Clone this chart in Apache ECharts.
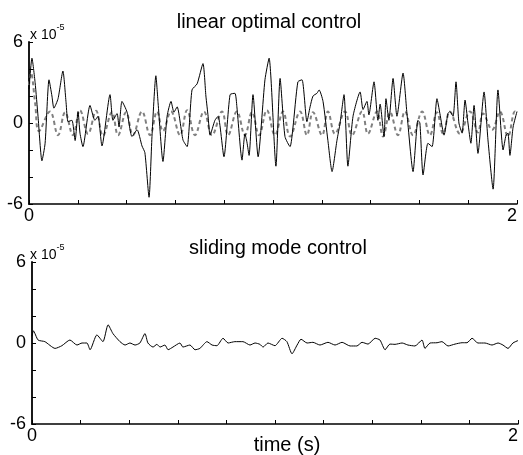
<!DOCTYPE html>
<html>
<head>
<meta charset="utf-8">
<script src="https://cdn.jsdelivr.net/npm/echarts@6/dist/echarts.min.js"></script>
<style>
  html, body { margin: 0; padding: 0; background: #fff; }
  #chart { width: 523px; height: 455px; }
</style>
</head>
<body>
<div id="chart"></div>
<script>
// values in units of 1e-5, time in seconds
const topTime = [0, 0.012, 0.025, 0.037, 0.053, 0.066, 0.082, 0.094, 0.102, 0.119, 0.139, 0.152, 0.160, 0.176, 0.189, 0.201, 0.209, 0.221, 0.250, 0.270, 0.283, 0.299, 0.332, 0.344, 0.361, 0.369, 0.381, 0.402, 0.422, 0.443, 0.463, 0.475, 0.492, 0.504, 0.520, 0.529, 0.549, 0.566, 0.582, 0.594, 0.607, 0.631, 0.648, 0.668, 0.689, 0.713, 0.725, 0.734, 0.742, 0.762, 0.775, 0.799, 0.824, 0.844, 0.852, 0.873, 0.885, 0.893, 0.902, 0.918, 0.939, 0.967, 0.984, 1.012, 1.029, 1.049, 1.070, 1.082, 1.102, 1.119, 1.139, 1.152, 1.164, 1.180, 1.189, 1.205, 1.225, 1.242, 1.262, 1.275, 1.291, 1.307, 1.328, 1.357, 1.369, 1.385, 1.393, 1.414, 1.430, 1.439, 1.455, 1.463, 1.475, 1.492, 1.508, 1.533, 1.549, 1.574, 1.594, 1.602, 1.615, 1.635, 1.652, 1.672, 1.684, 1.701, 1.717, 1.725, 1.738, 1.750, 1.762, 1.775, 1.787, 1.799, 1.811, 1.824, 1.840, 1.865, 1.881, 1.902, 1.922, 1.943, 1.955, 1.963, 1.971, 1.984, 2.0];
const topSolid = [2.5, 4.8, 3.0, 0.5, -2.8, -1.5, 3.2, 2.0, 1.1, 1.8, 3.85, 1.5, 0.1, 0.2, -1.3, 0.85, -0.75, -1.75, 1.3, 0.2, 0.5, -1.7, 2.1, 0.2, 0.7, -0.3, 1.6, 0.8, -1.0, -0.5, -1.7, -2.2, -5.5, -1.0, 3.5, 1.5, -2.85, 0.5, 1.6, 0.8, 1.2, -1.25, -1.75, 2.45, 2.9, 4.4, 2.0, 0.5, -0.9, 0.2, 0.5, -2.5, 2.1, 2.2, 1.2, -2.75, -0.8, -1.4, -2.4, 2.1, -2.5, 3.2, 4.8, -3.2, 3.3, -1.0, -1.75, -0.3, 3.05, 3.2, 0.1, 1.2, 2.0, 2.2, 2.45, 1.6, -1.3, -3.6, -1.3, 0.0, 2.1, -3.2, 0.5, 2.3, 1.0, 1.6, 0.6, 3.05, 0.2, 1.4, -1.0, 1.8, 0.2, 3.3, 0.5, 3.7, 0.7, -3.6, 0.2, 0.0, -3.85, -1.5, -1.75, 1.8, 0.7, -0.9, 0.7, 0.85, 0.5, 3.05, 0.0, -0.75, 1.7, 0.0, -1.5, 1.3, -2.25, 2.3, -1.25, -4.9, 2.45, -2.0, -0.9, -0.75, -2.4, -0.3, 0.85];

const dashTime = [0, 0.008, 0.025, 0.041, 0.086, 0.119, 0.148, 0.180, 0.209, 0.242, 0.275, 0.303, 0.340, 0.365, 0.398, 0.426, 0.463, 0.496, 0.525, 0.549, 0.582, 0.619, 0.648, 0.680, 0.717, 0.750, 0.791, 0.816, 0.852, 0.885, 0.914, 0.943, 0.975, 1.008, 1.041, 1.070, 1.111, 1.139, 1.164, 1.201, 1.225, 1.254, 1.295, 1.324, 1.365, 1.389, 1.426, 1.451, 1.480, 1.512, 1.541, 1.574, 1.611, 1.643, 1.672, 1.697, 1.725, 1.766, 1.807, 1.840, 1.861, 1.898, 1.930, 1.963, 1.992, 2.0];
const dashVals = [2.8, 3.7, 1.5, -0.6, 0.85, -0.9, 0.8, -0.9, 0.95, -0.8, 0.9, -0.95, 0.8, -0.9, 0.8, -0.9, 0.85, -0.9, 0.85, -0.6, 0.85, -0.9, 0.95, -0.9, 0.85, -0.9, 0.85, -0.9, 0.85, -0.9, 0.8, -0.9, 0.95, -0.9, 0.85, -1.0, 0.85, -0.9, 0.8, -0.9, 0.85, -0.8, 0.85, -0.9, 0.85, -0.8, 0.85, -1.0, 0.8, -0.9, 0.85, -0.9, 0.85, -0.9, 0.8, -0.8, 0.85, -0.8, 0.85, -0.7, 0.7, -0.5, 0.85, -1.0, 0.85, 0.7];

const botTime = [0, 0.006, 0.025, 0.053, 0.095, 0.123, 0.156, 0.185, 0.206, 0.226, 0.239, 0.267, 0.292, 0.313, 0.333, 0.362, 0.383, 0.403, 0.424, 0.444, 0.465, 0.477, 0.498, 0.514, 0.527, 0.547, 0.560, 0.580, 0.609, 0.621, 0.650, 0.671, 0.691, 0.720, 0.741, 0.761, 0.786, 0.807, 0.835, 0.868, 0.897, 0.918, 0.938, 0.951, 0.971, 1.0, 1.029, 1.049, 1.070, 1.091, 1.107, 1.132, 1.156, 1.185, 1.218, 1.247, 1.276, 1.309, 1.337, 1.358, 1.383, 1.412, 1.432, 1.453, 1.473, 1.494, 1.523, 1.547, 1.576, 1.605, 1.617, 1.638, 1.667, 1.687, 1.712, 1.741, 1.770, 1.790, 1.811, 1.835, 1.864, 1.893, 1.918, 1.938, 1.959, 1.979, 2.0];
const botVals = [0.5, 0.9, 0.22, 0.1, -0.4, -0.2, 0.22, -0.15, 0.0, 0.0, -0.5, 0.6, 0.1, 1.35, 0.7, 0.1, -0.15, 0.0, -0.15, 0.0, 0.7, 0.0, -0.3, -0.1, -0.3, -0.15, -0.5, -0.3, 0.0, -0.3, -0.15, -0.5, -0.4, 0.1, -0.15, -0.2, 0.35, 0.0, 0.1, 0.1, -0.15, 0.0, -0.1, -0.3, 0.0, -0.2, 0.35, 0.1, -0.8, -0.15, 0.28, 0.0, 0.05, -0.15, 0.05, -0.15, 0.05, -0.22, -0.22, 0.05, -0.08, 0.35, 0.22, -0.5, -0.08, -0.1, 0.0, -0.15, -0.22, 0.22, -0.4, 0.0, 0.02, 0.1, -0.22, -0.08, 0.02, 0.02, 0.35, 0.0, 0.0, -0.15, 0.0, -0.15, -0.4, 0.0, 0.18];

const yLabels = [-6, 0, 6];
const xLabels = [0, 2];
const titles = ['linear optimal control', 'sliding mode control'];

const pair = (ts, vs) => ts.map((t, i) => [t, vs[i]]);

const font = 'Liberation Sans, Arial, sans-serif';
const chart = echarts.init(document.getElementById('chart'));

const xAxisBase = {
  type: 'value',
  min: 0,
  max: 2,
  interval: 0.2,
  axisLine: { onZero: false, lineStyle: { color: '#000', width: 1.5 } },
  axisTick: { inside: true, length: 4, lineStyle: { color: '#000' } },
  splitLine: { show: false },
  axisLabel: {
    color: '#000',
    fontSize: 18,
    fontFamily: font,
    margin: 3,
    alignMaxLabel: 'right',
    formatter: (v) => (xLabels.includes(Math.round(v * 10) / 10) ? String(v) : '')
  }
};
const yAxisBase = {
  type: 'value',
  min: -6,
  max: 6,
  interval: 2,
  axisLine: { show: true, onZero: false, lineStyle: { color: '#000', width: 1.8 } },
  axisTick: { show: true, inside: true, length: 4, lineStyle: { color: '#000' } },
  splitLine: { show: false },
  axisLabel: {
    color: '#000',
    fontSize: 18,
    fontFamily: font,
    margin: 6,
    formatter: (v) => (yLabels.includes(v) ? String(v) : '')
  }
};

const expLabel = (top) => ({
  type: 'text',
  left: 30,
  top: top,
  style: {
    text: '{a|x 10}{b|-5}',
    rich: {
      a: { fontSize: 14, fontFamily: font, fill: '#000', padding: [5, 0, 0, 0] },
      b: { fontSize: 9, fontFamily: font, fill: '#000', verticalAlign: 'top' }
    }
  }
});

const titleStyle = { fontSize: 20, fontWeight: 'normal', color: '#000', fontFamily: font };

const option = {
  backgroundColor: '#fff',
  animation: false,
  title: [
    { text: titles[0], left: 264, top: 7, textAlign: 'center', textStyle: titleStyle },
    { text: titles[1], left: 273, top: 233, textAlign: 'center', textStyle: titleStyle },
    { text: 'time (s)', left: 282, top: 430, textAlign: 'center', textStyle: titleStyle }
  ],
  graphic: [expLabel(23), expLabel(243)],
  grid: [
    { left: 29, width: 488, top: 42, height: 162 },
    { left: 32, width: 486, top: 262, height: 162 }
  ],
  xAxis: [
    Object.assign({ gridIndex: 0 }, xAxisBase),
    Object.assign({ gridIndex: 1 }, xAxisBase)
  ],
  yAxis: [
    Object.assign({ gridIndex: 0 }, yAxisBase),
    Object.assign({ gridIndex: 1 }, yAxisBase)
  ],
  series: [
    {
      type: 'line',
      xAxisIndex: 0,
      yAxisIndex: 0,
      data: pair(dashTime, dashVals),
      smooth: 0.4,
      showSymbol: false,
      lineStyle: { color: '#808080', width: 2, type: [4, 3] },
      z: 2
    },
    {
      type: 'line',
      xAxisIndex: 0,
      yAxisIndex: 0,
      data: pair(topTime, topSolid),
      smooth: 0.2,
      showSymbol: false,
      lineStyle: { color: '#000', width: 1 },
      z: 3
    },
    {
      type: 'line',
      xAxisIndex: 1,
      yAxisIndex: 1,
      data: pair(botTime, botVals),
      smooth: 0.2,
      showSymbol: false,
      lineStyle: { color: '#000', width: 1 }
    }
  ]
};

chart.setOption(option);
</script>
</body>
</html>
